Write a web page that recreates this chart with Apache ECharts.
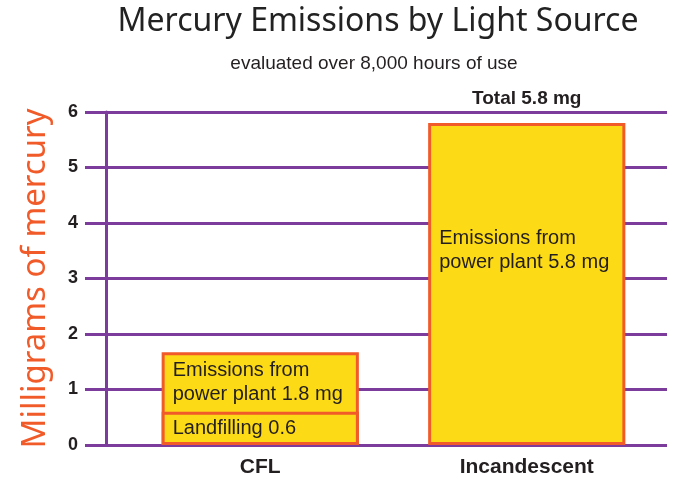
<!DOCTYPE html>
<html>
<head>
<meta charset="utf-8">
<script src="https://cdn.jsdelivr.net/npm/echarts@6/dist/echarts.min.js"></script>
<style>html,body{margin:0;padding:0;background:#fff}#c{width:675px;height:480px}</style>
</head>
<body>
<div id="c"></div>
<script>
var categories = ['CFL', 'Incandescent'];
var landfilling = [0.6, 0];
var powerPlant = [1.07, 5.8];
var totals = ['-', 5.8];
var landfillLabels = ['Landfilling 0.6', ''];
var powerLabels = ['Emissions from\npower plant 1.8 mg', 'Emissions from\npower plant 5.8 mg'];
var totalLabels = ['', 'Total 5.8 mg'];
var yTicks = [0, 1, 2, 3, 4, 5, 6];

var purple = '#7b3c9c';
var yellow = '#fdda16';
var orange = '#f15a29';
var ink = '#231f20';
var hand = '"Noto Sans", sans-serif';
var sans = '"Liberation Sans", Arial, sans-serif';

var chart = echarts.init(document.getElementById('c'), null, {renderer: 'canvas'});

var gridTop = 112, gridBottom = 35;

// full bar height = landfilling + power plant (stacked look, single outline)
var fullBars = categories.map(function (c, i) {
  var top = landfilling[i] + powerPlant[i];
  var labelPos = landfilling[i] > 0
    ? {position: ['5.6%', '33%'], align: 'left', verticalAlign: 'middle'}
    : {position: ['5.6%', '32%'], align: 'left', verticalAlign: 'top'};
  return {value: top, label: labelPos};
});
var landfillBars = landfilling.map(function (v) { return v > 0 ? v : '-'; });

chart.setOption({
  animation: false,
  title: [
    {text: 'Mercury Emissions by Light Source', left: 373, top: 1, textAlign: 'center',
     textStyle: {fontFamily: hand, fontSize: 32, fontWeight: 'normal', color: '#222'}},
    {text: 'evaluated over 8,000 hours of use', left: 369, top: 49, textAlign: 'center',
     textStyle: {fontFamily: sans, fontSize: 19, fontWeight: 'normal', color: ink}}
  ],
  grid: [
    {left: 106, right: 8, top: gridTop, bottom: gridBottom},
    {left: 127, right: 15, top: gridTop, bottom: gridBottom}
  ],
  xAxis: [
    {gridIndex: 0, type: 'value', min: 0, max: 1, show: false},
    {gridIndex: 1, type: 'category', data: categories,
     axisLine: {show: false}, axisTick: {show: false},
     axisLabel: {margin: 12, fontFamily: sans, fontSize: 21, fontWeight: 'bold', color: ink}}
  ],
  yAxis: [
    {gridIndex: 0, type: 'value', min: yTicks[0], max: yTicks[yTicks.length - 1], interval: 1,
     name: 'Milligrams of mercury', nameLocation: 'middle', nameGap: 54, nameRotate: 90,
     nameTextStyle: {fontFamily: hand, fontSize: 33, color: orange},
     axisLine: {show: true, lineStyle: {color: purple, width: 3}},
     axisTick: {show: true, length: 21, lineStyle: {color: purple, width: 3}},
     axisLabel: {margin: 28, fontFamily: sans, fontSize: 18, fontWeight: 'bold', color: ink},
     splitLine: {show: true, lineStyle: {color: purple, width: 3}}},
    {gridIndex: 1, type: 'value', min: yTicks[0], max: yTicks[yTicks.length - 1], interval: 1, show: false,
     splitLine: {show: false}}
  ],
  series: [
    {type: 'bar', name: 'Power plant', xAxisIndex: 1, yAxisIndex: 1, barWidth: '74%',
     itemStyle: {color: yellow, borderColor: orange, borderWidth: 3},
     label: {show: true, fontFamily: sans, fontSize: 20, color: ink, lineHeight: 24,
       formatter: function (p) { return powerLabels[p.dataIndex]; }},
     data: fullBars},
    {type: 'bar', name: 'Landfilling', xAxisIndex: 1, yAxisIndex: 1, barWidth: '74%', barGap: '-100%',
     itemStyle: {color: yellow, borderColor: orange, borderWidth: 3},
     label: {show: true, position: 'insideLeft', distance: 11, fontFamily: sans, fontSize: 20, color: ink,
       formatter: function (p) { return landfillLabels[p.dataIndex]; }},
     data: landfillBars},
    {type: 'scatter', name: 'Total', xAxisIndex: 1, yAxisIndex: 1, symbolSize: 0,
     itemStyle: {opacity: 1},
     label: {show: true, position: 'top', distance: 15, fontFamily: sans, fontSize: 19, fontWeight: 'bold', color: ink,
       formatter: function (p) { return totalLabels[p.dataIndex]; }},
     emphasis: {disabled: true},
     data: totals}
  ]
});
</script>
</body>
</html>
